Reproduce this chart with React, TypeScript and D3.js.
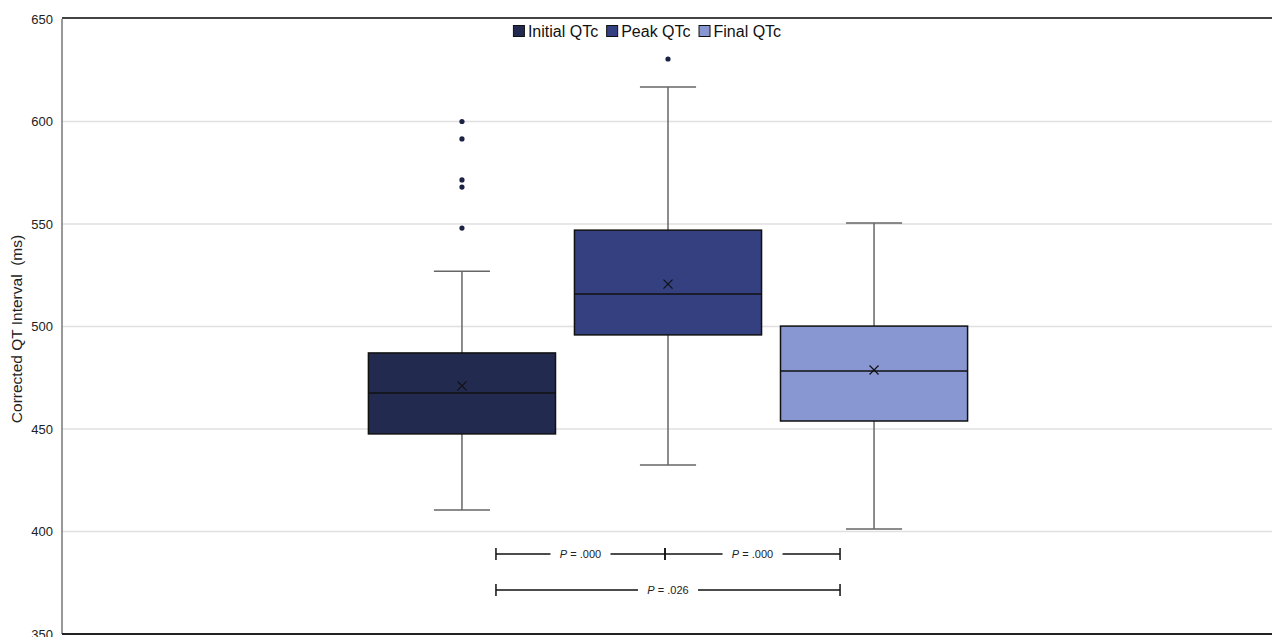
import React from "react";
import * as d3 from "d3";

const series = ["Initial QTc", "Peak QTc", "Final QTc"];
const colors = ["#232a4f", "#344080", "#8897d1"];
const q1 = [447.6, 495.9, 453.9];
const medians = [467.6, 515.9, 478.3];
const q3 = [487.1, 547.0, 500.2];
const means = [471.0, 520.7, 478.8];
const whiskerLow = [410.5, 432.4, 401.2];
const whiskerHigh = [527.0, 616.8, 550.5];
const outliers: number[][] = [[600, 591.5, 571.5, 568, 548], [630.5], []];
const yTicks = [350, 400, 450, 500, 550, 600, 650];
const comparisons = [
  { from: 0, to: 1, label: ".000", row: 0 },
  { from: 1, to: 2, label: ".000", row: 0 },
  { from: 0, to: 2, label: ".026", row: 1 },
];

const W = 1272;
const H = 637;
const left = 62;
const right = 1274;
const top = 19;
const bottom = 634;
const font = "'Liberation Sans', Arial, sans-serif";
const legendFont = 16;

function measure(text: string, size: number) {
  if (typeof document === "undefined") return text.length * size * 0.55;
  const c = document.createElement("canvas").getContext("2d");
  if (!c) return text.length * size * 0.55;
  c.font = `${size}px 'Liberation Sans', Arial, sans-serif`;
  return c.measureText(text).width;
}

export default function App() {
  const y = d3.scaleLinear().domain([350, 650]).range([bottom, top]);
  const outer = d3.scaleBand<string>().domain(["QTc"]).range([left, right]).padding(0.3245);
  const x = d3
    .scaleBand<string>()
    .domain(series)
    .range([outer("QTc")!, outer("QTc")! + outer.bandwidth()])
    .paddingInner(0.092)
    .paddingOuter(0.046);
  const bw = x.bandwidth();
  const cx = (i: number) => x(series[i])! + bw / 2;
  const capW = bw * 0.3;
  const bracketInset = 34;
  const bracketEnd = (i: number, side: number) =>
    i === 1 ? cx(i) - 3 : cx(i) + side * bracketInset;

  // legend layout
  const sq = 11;
  const sqGap = 4;
  const itemGap = 8;
  const widths = series.map((s) => measure(s, legendFont));
  const total = widths.reduce((a, b) => a + b, 0) + series.length * (sq + sqGap) + (series.length - 1) * itemGap;
  const legendCenter = 647;
  const legendX: number[] = [];
  let acc = legendCenter - total / 2;
  widths.forEach((w) => {
    legendX.push(acc);
    acc += sq + sqGap + w + itemGap;
  });

  return (
    <div style={{ position: "absolute", left: 0, top: 0, width: W, height: H, overflow: "hidden" }}>
      <svg width={W} height={H} style={{ display: "block", fontFamily: font }}>
        <rect width={W} height={H} fill="#fff" />
        {yTicks.map((t) => (
          <g key={t}>
            {t !== 350 && t !== 650 && (
              <line x1={left} x2={right} y1={y(t)} y2={y(t)} stroke="#e0e0e0" strokeWidth={1.5} />
            )}
            <text x={53} y={y(t)} dy="0.35em" textAnchor="end" fontSize={13} fill="#222">
              {t}
            </text>
          </g>
        ))}
        <line x1={left} x2={left} y1={top} y2={bottom} stroke="#777" strokeWidth={1.5} />
        <line x1={left} x2={right} y1={top - 1} y2={top - 1} stroke="#444" strokeWidth={2} />
        <line x1={left} x2={right} y1={bottom} y2={bottom} stroke="#222" strokeWidth={2} />
        <text
          transform={`translate(22,329) rotate(-90)`}
          textAnchor="middle"
          fontSize={15.5}
          fill="#222"
          style={{ whiteSpace: "pre" }}
        >
          {"Corrected QT Interval  (ms)"}
        </text>

        {series.map((s, i) => {
          const c = cx(i);
          const x0 = x(s)!;
          return (
            <g key={s}>
              <line x1={c} x2={c} y1={y(whiskerHigh[i])} y2={y(q3[i])} stroke="#666" strokeWidth={1.5} />
              <line x1={c} x2={c} y1={y(q1[i])} y2={y(whiskerLow[i])} stroke="#666" strokeWidth={1.5} />
              <line x1={c - capW / 2} x2={c + capW / 2} y1={y(whiskerHigh[i])} y2={y(whiskerHigh[i])} stroke="#666" strokeWidth={1.5} />
              <line x1={c - capW / 2} x2={c + capW / 2} y1={y(whiskerLow[i])} y2={y(whiskerLow[i])} stroke="#666" strokeWidth={1.5} />
              <rect
                x={x0}
                y={y(q3[i])}
                width={bw}
                height={y(q1[i]) - y(q3[i])}
                fill={colors[i]}
                stroke="#111"
                strokeWidth={1.5}
              />
              <line x1={x0} x2={x0 + bw} y1={y(medians[i])} y2={y(medians[i])} stroke="#111" strokeWidth={1.5} />
              <path
                d={`M${c - 4.5},${y(means[i]) - 4.5}L${c + 4.5},${y(means[i]) + 4.5}M${c - 4.5},${y(means[i]) + 4.5}L${c + 4.5},${y(means[i]) - 4.5}`}
                stroke="#111"
                strokeWidth={1.2}
              />
              {outliers[i].map((o, k) => (
                <circle key={k} cx={c} cy={y(o)} r={2.6} fill="#1c2244" />
              ))}
            </g>
          );
        })}

        {comparisons.map((cmp, k) => {
          const yy = cmp.row === 0 ? 554 : 590;
          const x1 = bracketEnd(cmp.from, 1);
          const x2 = bracketEnd(cmp.to, -1);
          const mid = (x1 + x2) / 2;
          return (
            <g key={k}>
              <line x1={x1} x2={x2} y1={yy} y2={yy} stroke="#111" strokeWidth={1.5} />
              <line x1={x1} x2={x1} y1={yy - 6} y2={yy + 6} stroke="#111" strokeWidth={1.5} />
              <line x1={x2} x2={x2} y1={yy - 6} y2={yy + 6} stroke="#111" strokeWidth={1.5} />
              <rect x={mid - 30} y={yy - 8} width={60} height={16} fill="#fff" />
              <text x={mid} y={yy} dy="0.35em" textAnchor="middle" fontSize={11} fill="#222">
                <tspan fontStyle="italic">P</tspan> = {cmp.label}
              </text>
            </g>
          );
        })}

        {series.map((s, i) => (
          <g key={s} transform={`translate(${legendX[i]},25)`}>
            <rect x={0.5} y={0.5} width={sq} height={sq} fill={colors[i]} stroke="#111" strokeWidth={1} />
            <text x={sq + sqGap} y={6.5} dy="0.35em" fontSize={legendFont} fill="#111">
              {s}
            </text>
          </g>
        ))}
      </svg>
    </div>
  );
}
